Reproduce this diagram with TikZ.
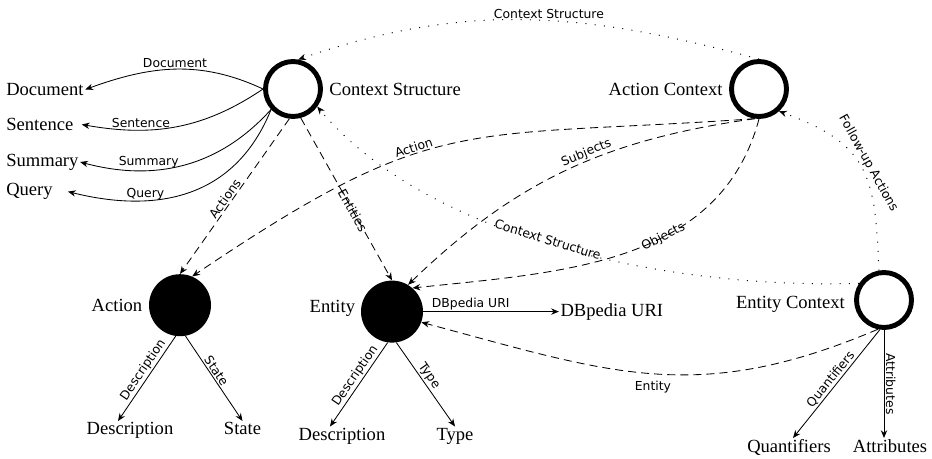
\documentclass[tikz,border=0pt]{standalone}
\usepackage{amsmath,fontspec}
\setmainfont{Liberation Serif}
\setsansfont{DejaVu Sans}
\usetikzlibrary{positioning,arrows.meta}
\begin{document}
\begin{tikzpicture}[>={Stealth[length=5.5pt,width=4.5pt]},
ctx/.style={draw,circle,line width=3.5pt,minimum size=1.375cm},
obj/.style={circle,fill=black,minimum size=1.55cm},
txt/.style={inner sep=1pt,font=\fontsize{13.2}{15}\selectfont},
lbl/.style={inner sep=1pt,font=\sffamily\fontsize{8.8}{10}\selectfont},
arr/.style={->,line width=0.6pt},
dsh/.style={->,line width=0.6pt,dash pattern=on 5.7pt off 3.6pt},
dotl/.style={->,line width=0.7pt,dash pattern=on 0.7pt off 5.9pt}]
\useasboundingbox (0,0) rectangle (23.3,11.45);
\node[ctx] (cs)at(7.325,9.225){};
\node[ctx] (ac)at(18.975,9.225){};
\node[ctx] (ec)at(22.1,3.95){};
\node[obj] (act)at(4.5,3.82){};
\node[obj] (ent)at(9.8,3.66){};
\node[txt,right=0.12cm of cs] (csl){Context Structure};
\node[txt,left=0.12cm of ac] (acl){Action Context};
\node[txt,left=0.19cm of ec,yshift=-0.1cm] (ecl){Entity Context};
\node[txt,left=0.12cm of act] (actl){Action};
\node[txt,left=0.1cm of ent,yshift=0.08cm] (entl){Entity};
\node[txt,anchor=west] (doc)at(0.115,9.2125){Document};
\node[txt,anchor=west] (sen)at(0.115,8.3375){Sentence};
\node[txt,anchor=west] (sum)at(0.115,7.4){Summary};
\node[txt,anchor=west] (qry)at(0.115,6.66){Query};
\node[txt,right=3.39cm of ent] (dbp){DBpedia URI};
\node[txt,anchor=north] (adesc)at(3.25,0.925){Description};
\node[txt,anchor=north] (ast)at(6.0625,0.925){State};
\node[txt,anchor=north] (edesc)at(8.55,0.7875){Description};
\node[txt,anchor=north] (typ)at(11.375,0.7875){Type};
\node[txt,anchor=north] (qnt)at(19.725,0.5){Quantifiers};
\node[txt,anchor=north] (att)at(22.25,0.5){Attributes};
\draw[arr] (cs.west) to[out=155,in=20] node[lbl,above]{Document} (doc.east);
\draw[arr] (cs.west) to[out=214,in=-10] node[lbl,pos=0.7,above]{Sentence} ([xshift=0.17cm]sen.east);
\draw[arr] (cs.223) to[out=228,in=-15] node[lbl,pos=0.68,above]{Summary} (sum.east);
\draw[arr] (cs.223) to[out=248,in=-14,looseness=1.1] node[lbl,pos=0.7,above=-1pt]{Query} ([xshift=0.34cm]qry.east);
\draw[dsh] (cs.263) -- node[lbl,sloped,pos=0.54,above]{Actions} (act.north);
\draw[dsh] (cs.285) -- node[lbl,sloped,pos=0.57]{Entities} (ent.north);
\draw[dsh] (ac.262) to[out=184,in=34,looseness=1.3] node[lbl,sloped,pos=0.59,above]{Action} (act.67);
\draw[dsh] (ac.262) to[out=188,in=44] node[lbl,sloped,pos=0.43,above]{Subjects} (ent.59);
\draw[dsh] (ac.south) to[out=255,in=6] node[lbl,sloped,pos=0.4]{Objects} (ent.49);
\draw[dsh] (ec.258) to[out=203,in=-15,looseness=1.1] node[lbl,below=4pt]{Entity} (ent.-20);
\draw[dotl] (ac.north) to[out=165,in=19] node[lbl,pos=0.45,above]{Context Structure} (cs.80);
\draw[dotl] (ec.146) to[out=182,in=-50,looseness=0.8] node[lbl,sloped,pos=0.53,above=-2pt]{Context Structure} (cs.-36);
\draw[dotl] (ec.100) to[out=92,in=-20,looseness=1.3] node[lbl,sloped,above]{Follow-up Actions} (ac.-48);
\draw[arr] (act.262) -- node[lbl,sloped,pos=0.45,above]{Description} ([xshift=-0.3cm]adesc.north);
\draw[arr] (act.280) -- node[lbl,sloped,pos=0.45,above]{State} (ast.north);
\draw[arr] (ent.262) -- node[lbl,sloped,pos=0.45,above]{Description} ([xshift=-0.3cm]edesc.north);
\draw[arr] (ent.278) -- node[lbl,sloped,pos=0.45,above]{Type} (typ.north);
\draw[arr] (ent.east) -- node[lbl,pos=0.35,above]{DBpedia URI} (dbp.west);
\draw[arr] (ec.262) -- node[lbl,sloped,above]{Quantifiers} ([xshift=0.1cm]qnt.north);
\draw[arr] (ec.south) -- node[lbl,sloped,above]{Attributes} (ec.south |- att.north);
\end{tikzpicture}
\end{document}
